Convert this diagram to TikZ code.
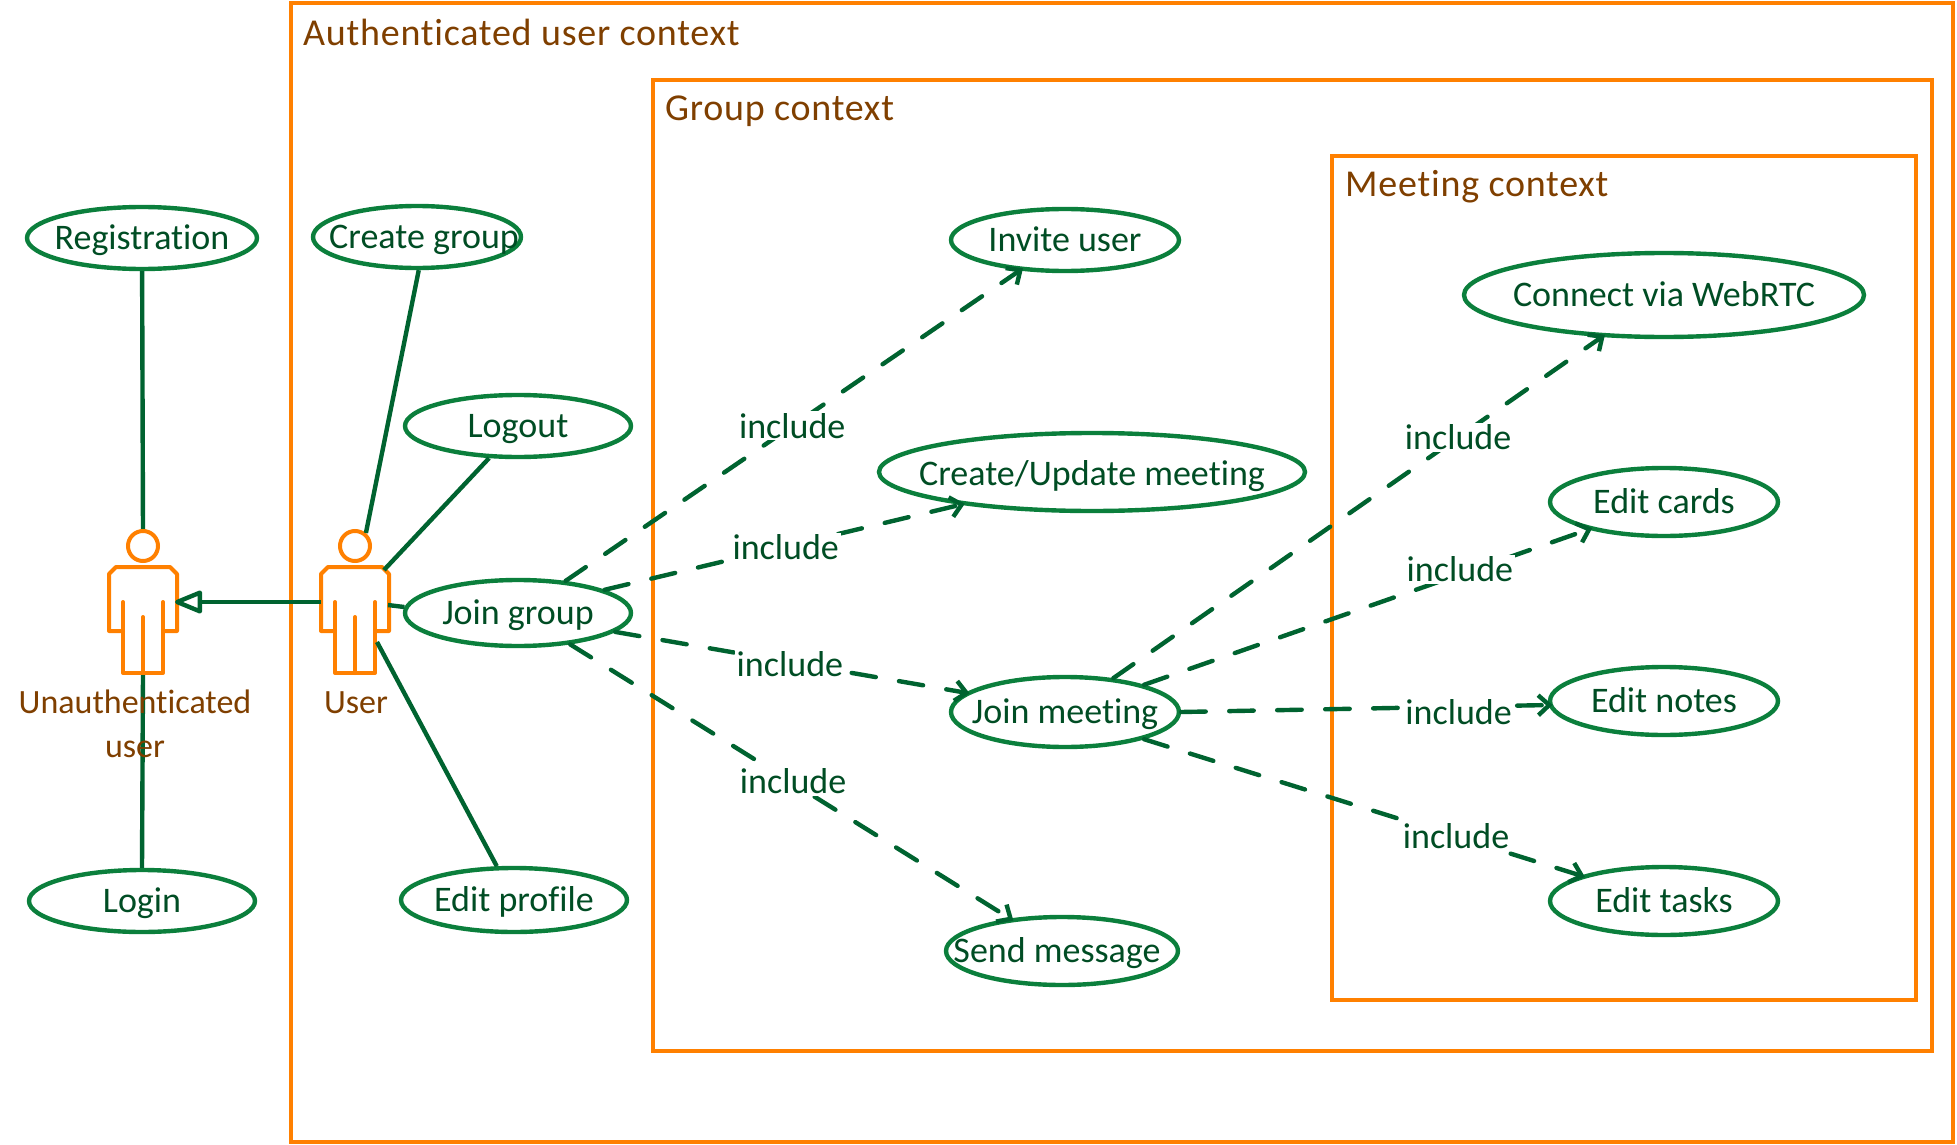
\documentclass[tikz,border=0pt]{standalone}
\usepackage{fontspec}
\setmainfont[Ligatures=NoCommon]{Carlito}
\usetikzlibrary{shapes.geometric,arrows.meta}
\definecolor{frameor}{HTML}{FF8000}
\definecolor{ucgreen}{HTML}{0B7F3C}
\definecolor{lngreen}{HTML}{006330}
\definecolor{txgreen}{HTML}{004D24}
\definecolor{brownt}{HTML}{7F3F00}
\newcommand{\uctext}[1]{\makebox[0pt][c]{\raisebox{-.33em}[0pt][0pt]{#1}}}
\newcommand{\actorfig}[2]{%
  \node[actorhead] (#1head) at (#2,546) {};
  \node[actorbody] (#1) at (#2,620) {};
  \begin{scope}[shift={(#2,0)}]
    \draw[actorline] (-20,602) -- (-20,673) -- (20,673) -- (20,602);
    \draw[actorline] (0,617) -- (0,673);
    \draw[actorline] (-20,631) -- (-34,631) -- (-34,574) -- (-27,567) -- (27,567) -- (34,574) -- (34,631) -- (20,631);
  \end{scope}}
\tikzset{
  x=1pt,y=-1pt,
  every node/.style={font=\fontsize{36}{42}\selectfont},
  ctxframe/.style={draw=frameor,line width=4.2pt},
  ctxtitle/.style={text=brownt,anchor=west,inner sep=0pt,font=\fontsize{38}{42}\selectfont},
  usecase/.style={ellipse,draw=ucgreen,fill=white,line width=4.4pt,inner sep=0pt,text=txgreen},
  assoc/.style={draw=lngreen,line width=4.4pt},
  incl/.style={draw=lngreen,line width=4.4pt,line cap=round,dash pattern=on 24.5pt off 23.5pt,shorten >=-4pt,
    -{Straight Barb[length=11pt,width=20pt,line width=4.4pt]}},
  incltext/.style={fill=white,text=txgreen,inner sep=2pt},
  gener/.style={draw=lngreen,line width=4.4pt,-{Triangle[open,round,fill=white,length=31pt,width=24pt,line width=4.4pt]}},
  actorhead/.style={circle,draw=frameor,fill=white,line width=4pt,minimum size=30pt,inner sep=0pt},
  actorbody/.style={rectangle,minimum width=68pt,minimum height=106pt,inner sep=0pt},
  actorline/.style={draw=frameor,line width=4pt,line join=round,line cap=round},
  actortext/.style={text=brownt,inner sep=0pt,align=center,font=\fontsize{34}{44}\selectfont},
}
\begin{document}
\begin{tikzpicture}
\useasboundingbox (0,0) rectangle (1957,1145);
% context frames
\node[ctxframe,rectangle,minimum width=1662pt,minimum height=1139pt,inner sep=0pt] (outer) at (1122,572.5) {};
\node[ctxframe,rectangle,minimum width=1279pt,minimum height=971pt,inner sep=0pt] (group) at (1292.5,565.5) {};
\node[ctxframe,rectangle,minimum width=584pt,minimum height=844pt,inner sep=0pt] (meeting) at (1624,578) {};
\node[ctxtitle] (t1) at (303,32) {\addfontfeature{LetterSpace=2}Authenticated user context};
\node[ctxtitle] (t2) at (665,111) {\addfontfeature{LetterSpace=2}Group context};
\node[ctxtitle] (t3) at (1345,187) {\addfontfeature{LetterSpace=2}Meeting context};
% use cases
\node[usecase,minimum width=230pt,minimum height=62pt] (reg) at (142,238) {\uctext{Registration}};
\node[usecase,minimum width=208pt,minimum height=62pt] (cg) at (417,237) {\uctext{\hspace*{14pt}Create group}};
\node[usecase,minimum width=226pt,minimum height=62pt] (logout) at (518,426) {\uctext{Logout}};
\node[usecase,minimum width=226pt,minimum height=66pt] (jg) at (518,613) {\uctext{Join group}};
\node[usecase,minimum width=226pt,minimum height=64pt] (ep) at (514,900) {\uctext{Edit profile}};
\node[usecase,minimum width=226pt,minimum height=62pt] (login) at (142,901) {\uctext{Login}};
\node[usecase,minimum width=228pt,minimum height=62pt] (inv) at (1065,240) {\uctext{Invite user}};
\node[usecase,minimum width=426pt,minimum height=78pt] (cu) at (1092,472) {\uctext{\raisebox{-2pt}{Create/Update meeting}}};
\node[usecase,minimum width=228pt,minimum height=70pt] (jm) at (1065,712) {\uctext{Join meeting}};
\node[usecase,minimum width=232pt,minimum height=68pt] (sm) at (1062,951) {\uctext{Send message\hspace*{10pt}}};
\node[usecase,minimum width=400pt,minimum height=84pt] (rtc) at (1664,295) {\uctext{Connect via WebRTC}};
\node[usecase,minimum width=228pt,minimum height=68pt] (cards) at (1664,502) {\uctext{Edit cards}};
\node[usecase,minimum width=228pt,minimum height=68pt] (notes) at (1664,701) {\uctext{Edit notes}};
\node[usecase,minimum width=228pt,minimum height=68pt] (tasks) at (1664,901) {\uctext{Edit tasks}};
% actors
\coordinate (uBottomL) at (143,675);
\coordinate (uTopL) at (143,531);
\coordinate (uLogout) at (384,570);
\coordinate (uJoin) at (388,605);
\coordinate (uEdit) at (377,642);
\coordinate (uGenS) at (321,602);
\coordinate (uGenE) at (175,602);
\draw[assoc] (reg) -- (uTopL);
\draw[assoc] (login.north) -- (uBottomL);
\actorfig{anon}{143}
\actorfig{user}{355}
\node[actortext] (anonlabel) at (135,724) {Unauthenticated\\user};
\node[actortext] (userlabel) at (356,703) {User};
% associations
\draw[assoc] (cg.273) -- (userhead.50);
\draw[assoc] (logout.228) -- (uLogout);
\draw[assoc] (jg.177) -- (uJoin);
\draw[assoc] (ep.117) -- (uEdit);
\draw[gener] (uGenS) -- (uGenE);
% includes
\draw[incl] (jg.34) -- node[incltext,pos=.497,xshift=1pt,yshift=1pt] (l1) {include} (inv.214.6);
\draw[incl] (jg.15) -- node[incltext,pos=.5,xshift=3pt] (l2) {include} (cu.194);
\draw[incl] (jg.-11.4) -- node[incltext,pos=.49,xshift=3pt,yshift=-2pt] (l3) {include} (jm.169);
\draw[incl] (jg.-31.6) -- node[incltext,pos=.5,xshift=3pt] (l4) {include} (sm.148);
\draw[incl] (jm.35) -- node[incltext,pos=.7,xshift=3pt,yshift=2pt] (l5) {include} (rtc.214);
\draw[incl] (jm.19.6) -- node[incltext,pos=.704,xshift=3pt,yshift=6pt] (l6) {include} (cards.200);
\draw[incl] (jm.0.5) -- node[incltext,pos=.747,xshift=3pt,yshift=-5pt] (l7) {include} (notes.182);
\draw[incl] (jm.-19) -- node[incltext,pos=.707,xshift=3pt] (l8) {include} (tasks.163);
\end{tikzpicture}
\end{document}
